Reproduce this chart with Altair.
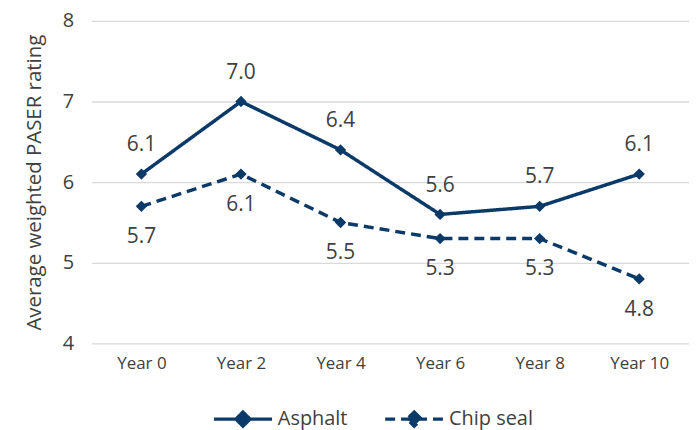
import altair as alt
import pandas as pd

years = ["Year 0", "Year 2", "Year 4", "Year 6", "Year 8", "Year 10"]
asphalt = [6.1, 7.0, 6.4, 5.6, 5.7, 6.1]
chip_seal = [5.7, 6.1, 5.5, 5.3, 5.3, 4.8]
series = ["Asphalt", "Chip seal"]

rows = []
for i, y in enumerate(years):
    rows.append({"year": y, "series": series[0], "value": asphalt[i]})
    rows.append({"year": y, "series": series[1], "value": chip_seal[i]})
df = pd.DataFrame(rows)

color = "#0B3A68"
text_color = "#404040"
font = "Open Sans"

x = alt.X("year:N", sort=years, title=None,
          axis=alt.Axis(labelAngle=0, domain=False, ticks=False, labelPadding=12,
                        labelFontSize=17, labelColor=text_color, labelFont=font, grid=False))
y = alt.Y("value:Q", scale=alt.Scale(domain=[4, 8]),
          axis=alt.Axis(values=[4, 5, 6, 7, 8], domain=False, ticks=False, labelPadding=18,
                        labelFontSize=20, labelColor=text_color, labelFont=font,
                        gridColor="#d9d9d9", gridWidth=1.3,
                        title="Average weighted PASER rating", titleFontSize=20.5,
                        titleFontWeight="normal", titleColor=text_color, titleFont=font,
                        titlePadding=18))

legend_symbol = "M-1,0H1M0,-0.24L0.24,0L0,0.24L-0.24,0Z"

lines = alt.Chart(df).mark_line(color=color, strokeWidth=3.5).encode(
    x=x, y=y,
    strokeDash=alt.StrokeDash("series:N", sort=series,
        scale=alt.Scale(domain=series, range=[[1, 0], [10, 6]]),
        legend=alt.Legend(title=None, orient="none", direction="horizontal",
                          legendX=121, legendY=369,
                          symbolType=legend_symbol, symbolSize=3400, symbolStrokeWidth=3.5,
                          symbolStrokeColor=color, symbolFillColor=color,
                          labelFontSize=20, labelColor=text_color, labelFont=font,
                          labelOffset=4, columnPadding=30, symbolOffset=0))
)

points = alt.Chart(df).mark_point(shape="diamond", filled=True, size=130, color=color, opacity=1).encode(
    x=x, y=y, detail="series:N"
)

labels_a = alt.Chart(df).transform_filter(alt.datum.series == "Asphalt").mark_text(
    dy=-29, fontSize=21, color=text_color, font=font).encode(
    x=x, y=y, text=alt.Text("value:Q", format=".1f"))
labels_c = alt.Chart(df).transform_filter(alt.datum.series == "Chip seal").mark_text(
    dy=31, fontSize=21, color=text_color, font=font).encode(
    x=x, y=y, text=alt.Text("value:Q", format=".1f"))

chart = alt.layer(lines, points, labels_a, labels_c).properties(
    width=600, height=324,
    autosize=alt.AutoSizeParams(type="none"),
    padding={"left": 84, "top": 12, "right": 0, "bottom": 86},
).configure_view(stroke=None).configure_scale(bandPaddingInner=0)

chart.save("out.html", embed_options={"renderer": "svg", "actions": False})
